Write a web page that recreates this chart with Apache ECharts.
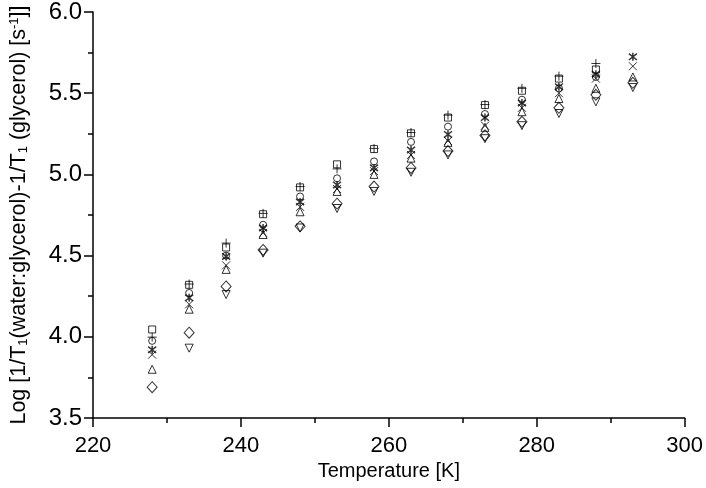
<!DOCTYPE html>
<html><head><meta charset="utf-8">
<script src="https://cdn.jsdelivr.net/npm/echarts@6/dist/echarts.min.js"></script>
<style>html,body{margin:0;padding:0;background:#fff}#c{width:706px;height:488px}</style>
</head><body><div id="c"></div>
<script>
const temps = [228,233,238,243,248,253,258,263,268,273,278,283,288,293];
const squareVals  = [4.045,4.32,4.55,4.755,4.92,5.062,5.156,5.253,5.35,5.427,5.515,5.59,5.646,null];
const plusVals    = [3.998,4.325,4.577,4.76,4.925,5.034,5.16,5.258,5.365,5.43,5.53,5.605,5.683,null];
const circleVals  = [3.975,4.27,4.50,4.69,4.864,4.976,5.08,5.20,5.294,5.372,5.46,5.53,5.60,null];
const starVals    = [3.92,4.24,4.495,4.67,4.83,4.935,5.04,5.15,5.246,5.35,5.44,5.54,5.617,5.724];
const crossVals   = [3.89,4.20,4.44,4.64,4.80,4.91,5.02,5.12,5.206,5.30,5.41,5.50,5.59,5.666];
const triUpVals   = [3.80,4.17,4.415,4.63,4.77,4.895,5.0,5.10,5.197,5.29,5.386,5.467,5.53,5.60];
const diamondVals = [3.69,4.025,4.31,4.535,4.68,4.82,4.925,5.04,5.144,5.24,5.324,5.41,5.49,5.564];
const triDownVals = [null,3.93,4.26,4.515,4.67,4.79,4.895,5.013,5.12,5.22,5.30,5.375,5.447,5.535];

function pairs(v){ const o=[]; v.forEach((y,i)=>{ if(y!==null) o.push([temps[i],y]); }); return o; }
const FONT = 'Liberation Sans';
function mk(name, vals, symbol, size, extra){
  return Object.assign({
    name, type:'scatter', data: pairs(vals), symbol, symbolSize:size,
    itemStyle:{color:'rgba(0,0,0,0)', borderColor:'#000', borderWidth:1},
    emphasis:{disabled:true}, silent:true
  }, extra||{});
}
const chart = echarts.init(document.getElementById('c'), null, {renderer:'canvas'});
chart.setOption({
  animation:false,
  backgroundColor:'#fff',
  grid:{left:91, right:19, top:10, bottom:70},
  xAxis:{
    type:'value', min:220, max:300, interval:20,
    name:'Temperature [K]', nameLocation:'middle', nameGap:41,
    nameTextStyle:{fontFamily:FONT, fontSize:20, color:'#000'},
    axisLine:{onZero:false, lineStyle:{color:'#000', width:1.5}},
    axisTick:{length:9, lineStyle:{color:'#000', width:1.5}},
    minorTick:{show:true, splitNumber:2, length:5, lineStyle:{color:'#000', width:1.5}},
    axisLabel:{fontFamily:FONT, fontSize:22, color:'#000', margin:17},
    splitLine:{show:false}
  },
  yAxis:{
    type:'value', min:3.5, max:6.0, interval:0.5,
    name:'Log [1/T{sub|1}(water:glycerol)-1/T{sub|1} (glycerol) [s{sup|-1}]]',
    nameLocation:'middle', nameGap:63, nameRotate:90,
    nameTextStyle:{fontFamily:FONT, fontSize:21.5, color:'#000',
      rich:{
        sub:{fontFamily:FONT, fontSize:13, color:'#000', verticalAlign:'bottom', padding:[8,0,0,0]},
        sup:{fontFamily:FONT, fontSize:13, color:'#000', verticalAlign:'top', padding:[0,0,8,0]}
      }},
    axisLine:{onZero:false, lineStyle:{color:'#000', width:1.5}},
    axisTick:{length:9, lineStyle:{color:'#000', width:1.5}},
    minorTick:{show:true, splitNumber:2, length:5, lineStyle:{color:'#000', width:1.5}},
    axisLabel:{fontFamily:FONT, fontSize:24, color:'#000', margin:11, formatter:v=>v.toFixed(1)},
    splitLine:{show:false}
  },
  series:[
    mk('square', squareVals, 'rect', 7),
    mk('circle', circleVals, 'circle', 7),
    mk('triUp', triUpVals, 'triangle', 8),
    mk('triDown', triDownVals, 'triangle', 8, {symbolRotate:180}),
    mk('diamond', diamondVals, 'diamond', [10,11]),
    mk('cross', crossVals, 'path://M0,0L10,10M10,0L0,10', 8),
    mk('plus', plusVals, 'path://M5,0L5,10M0,5L10,5', 9),
    mk('star', starVals, 'path://M1,1L9,9M9,1L1,9M5,0L5,10', 8, {itemStyle:{color:'rgba(0,0,0,0)', borderColor:'#000', borderWidth:1.5}})
  ]
});
</script></body></html>
